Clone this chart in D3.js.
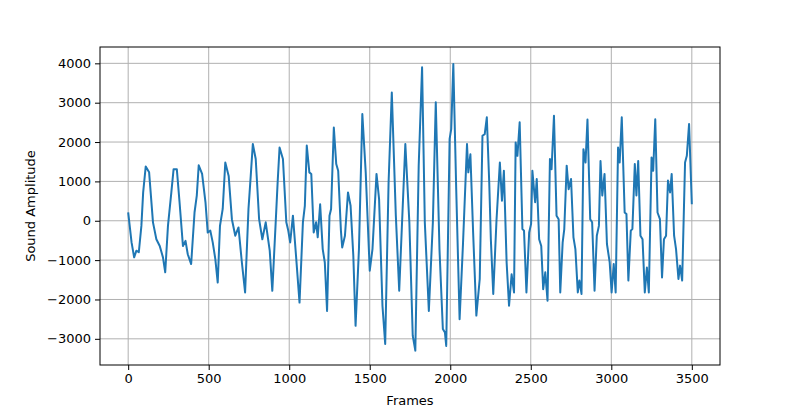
<!DOCTYPE html>
<html><head><meta charset="utf-8">
<script src="https://cdn.jsdelivr.net/npm/d3@7"></script>
<style>body{margin:0;background:#fff}svg{font-family:"DejaVu Sans",sans-serif}</style>
</head><body><svg id="c" width="800" height="409"></svg>
<script>
const frames=[0,21,37,51,66,82,93,109,130,154,175,196,216,230,247,268,282,302,319,340,356,370,391,412,426,438,459,480,494,510,525,541,556,570,587,603,624,644,665,685,706,726,747,761,774,792,813,833,854,879,895,916,928,940,961,982,994,1006,1023,1043,1064,1085,1097,1109,1125,1137,1152,1167,1177,1192,1208,1221,1235,1250,1260,1277,1292,1304,1321,1329,1346,1365,1381,1398,1412,1433,1454,1475,1500,1517,1542,1558,1579,1596,1617,1637,1662,1683,1721,1746,1767,1783,1804,1825,1842,1867,1892,1910,1933,1954,1967,1975,1996,2006,2019,2037,2058,2079,2104,2112,2125,2142,2162,2183,2200,2214,2227,2242,2252,2267,2287,2308,2321,2333,2350,2365,2381,2396,2406,2417,2431,2448,2458,2473,2490,2502,2510,2527,2537,2552,2565,2577,2590,2604,2619,2629,2644,2660,2673,2683,2698,2708,2723,2735,2750,2765,2777,2792,2802,2815,2827,2840,2852,2869,2881,2896,2910,2923,2933,2944,2958,2973,2990,3002,3015,3027,3042,3052,3065,3083,3094,3106,3121,3131,3146,3156,3167,3181,3194,3208,3221,3233,3250,3260,3273,3287,3302,3315,3327,3340,3352,3365,3375,3390,3402,3417,3427,3440,3458,3469,3483,3500];
const amplitude=[212,-550,-930,-760,-800,-130,720,1380,1230,-40,-470,-640,-930,-1310,-130,720,1310,1310,470,-640,-510,-850,-1100,210,640,1410,1190,470,-300,-250,-550,-970,-1570,-130,300,1480,1140,40,-380,-170,-1060,-1820,300,1140,1950,1570,40,-470,-40,-760,-1780,-40,970,1860,1570,-40,-250,-550,130,-930,-2080,-40,380,1910,1230,1190,-300,-40,-420,420,-720,-1060,-2290,130,300,2370,1440,1270,-250,-680,-380,720,380,-890,-2670,-720,2710,1230,-1270,-720,1190,550,-2160,-3130,970,3260,130,-1780,1950,-40,-2920,-3300,1400,3900,-40,-2290,-40,3010,-720,-2750,-2840,-3180,2080,2330,3980,800,-2500,-590,1950,1230,1690,-300,-2410,-1480,2160,2200,2630,970,-470,-1860,0,1480,510,1270,-1060,-2160,-1360,-1820,1990,1650,2500,-210,-250,-1820,-300,-80,1270,470,1060,-470,-640,-1740,-1310,-2030,1570,1310,2670,130,40,-1820,-550,-210,1400,800,1060,-420,-720,-1820,-1520,-1860,1820,1480,2570,40,-40,-1780,-380,-130,1520,640,1190,-590,-1060,-1820,-1100,-1820,1860,1480,2630,210,170,-1520,-250,-210,1440,640,1520,-380,-470,-1820,-1190,-1820,1610,1270,2580,210,40,-1440,-470,-380,1020,720,1190,-380,-720,-1480,-1140,-1520,1480,1650,2460,420];
const xTicks=[0,500,1000,1500,2000,2500,3000,3500];
const yTicks=[-3000,-2000,-1000,0,1000,2000,3000,4000];
const L=100,R=720,T=47,B=365;
const svg=d3.select("#c");
const x=d3.scaleLinear().domain([-175,3675]).range([L,R]);
const y=d3.scaleLinear().domain([-3665,4415]).range([B,T]);
const g=svg.append("g");
g.selectAll(".gx").data(xTicks).join("line").attr("x1",d=>x(d)).attr("x2",d=>x(d)).attr("y1",T).attr("y2",B).attr("stroke","#b0b0b0").attr("stroke-width",1);
g.selectAll(".gy").data(yTicks).join("line").attr("y1",d=>y(d)).attr("y2",d=>y(d)).attr("x1",L).attr("x2",R).attr("stroke","#b0b0b0").attr("stroke-width",1);
svg.append("path").datum(frames.map((f,i)=>[f,amplitude[i]])).attr("fill","none").attr("stroke","#1f77b4").attr("stroke-width",2).attr("stroke-linejoin","round")
 .attr("d",d3.line().x(d=>x(d[0])).y(d=>y(d[1])));
svg.append("rect").attr("x",L).attr("y",T).attr("width",R-L).attr("height",B-T).attr("fill","none").attr("stroke","#000").attr("stroke-width",1);
const xa=svg.append("g").attr("transform",`translate(0,${B})`).call(d3.axisBottom(x).tickValues(xTicks).tickFormat(d3.format("d")).tickSizeOuter(0).tickSize(5).tickPadding(4));
const ya=svg.append("g").attr("transform",`translate(${L},0)`).call(d3.axisLeft(y).tickValues(yTicks).tickFormat(d=>d<0?"\u2212"+Math.abs(d):d).tickSizeOuter(0).tickSize(5).tickPadding(4));
[xa,ya].forEach(a=>{a.select(".domain").remove();a.selectAll("text").attr("font-size",13).attr("font-family","DejaVu Sans").attr("fill","#000");a.selectAll("line").attr("stroke","#000");});
svg.append("text").attr("x",(L+R)/2).attr("y",405).attr("text-anchor","middle").attr("font-size",13).text("Frames");
svg.append("text").attr("transform",`translate(35,${(T+B)/2}) rotate(-90)`).attr("text-anchor","middle").attr("font-size",13).text("Sound Amplitude");
</script></body></html>
